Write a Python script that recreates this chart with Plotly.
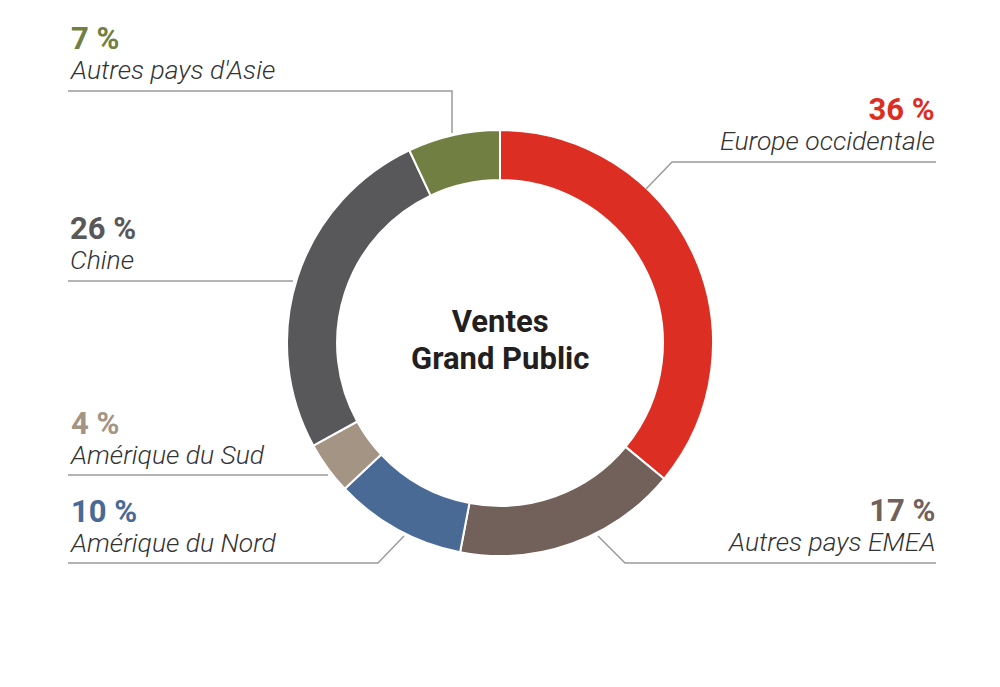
import plotly.graph_objects as go

# ---- data ----
regions = ["Europe occidentale", "Autres pays EMEA", "Amérique du Nord",
           "Amérique du Sud", "Chine", "Autres pays d'Asie"]
shares = [36, 17, 10, 4, 26, 7]
colors = ["#DC2E22", "#72605A", "#4A6A96", "#A39483", "#58585A", "#727F42"]
center_title = ["Ventes", "Grand Public"]

# page offset (default body margin) -> figure fits the window
OFF = 8
W, H = 1000 - OFF, 687 - OFF
CX, CY, R = 500, 343, 213

def px(x):
    return (x - OFF) / W

def py(y):
    return 1 - (y - OFF) / H

fig = go.Figure()
fig.add_trace(go.Pie(
    labels=regions, values=shares, sort=False, direction="clockwise",
    rotation=0, hole=0.765,
    marker=dict(colors=colors, line=dict(color="white", width=2)),
    textinfo="none", hoverinfo="label+percent", showlegend=False,
    domain=dict(x=[px(CX - R), px(CX + R)], y=[py(CY + R), py(CY - R)]),
))

# label layout: (index, side, x text anchor, label baseline y, leader polyline)
label_layout = [
    (5, "left", 69, 78.5, [(68, 91), (452, 91), (452, 133)]),
    (0, "right", 936, 149.5, [(936, 162), (672, 162), (646, 189)]),
    (4, "left", 69, 269.5, [(68, 281), (293, 281)]),
    (3, "left", 69, 463.5, [(68, 475), (328, 475)]),
    (2, "left", 69, 551.5, [(68, 563), (378, 563), (404, 536)]),
    (1, "right", 936, 550.5, [(936, 563), (625, 563), (598, 536)]),
]

LINE_COLOR = "#9b9b9b"
for idx, side, tx, base, pts in label_layout:
    txt = (f"<span style='font-size:31px;color:{colors[idx]}'><b>{shares[idx]} %</b></span>"
           f"<br><span style='font-size:26.5px;color:#333333;font-weight:300'><i>{regions[idx]}</i></span>")
    fig.add_annotation(
        x=px(tx), y=py(base + 7), xref="paper", yref="paper",
        text=txt, showarrow=False, align=side,
        xanchor=side, yanchor="bottom", borderpad=0,
        font=dict(family="Roboto", size=23.3, color="#333333"),
    )
    path = "M " + " L ".join(f"{px(x)},{py(y)}" for x, y in pts)
    fig.add_shape(type="path", path=path, xref="paper", yref="paper",
                  line=dict(color=LINE_COLOR, width=1.5))

fig.add_annotation(
    x=px(CX), y=py(340), xref="paper", yref="paper",
    text="<br>".join(f"<span style='font-size:31px'><b>{t}</b></span>" for t in center_title),
    showarrow=False, xanchor="center", yanchor="middle", align="center",
    font=dict(family="Roboto", size=28.5, color="#231F20"),
)

fig.update_layout(
    width=W, height=H, margin=dict(l=0, r=0, t=0, b=0),
    paper_bgcolor="white", plot_bgcolor="white",
)
fig.write_html("out.html")
